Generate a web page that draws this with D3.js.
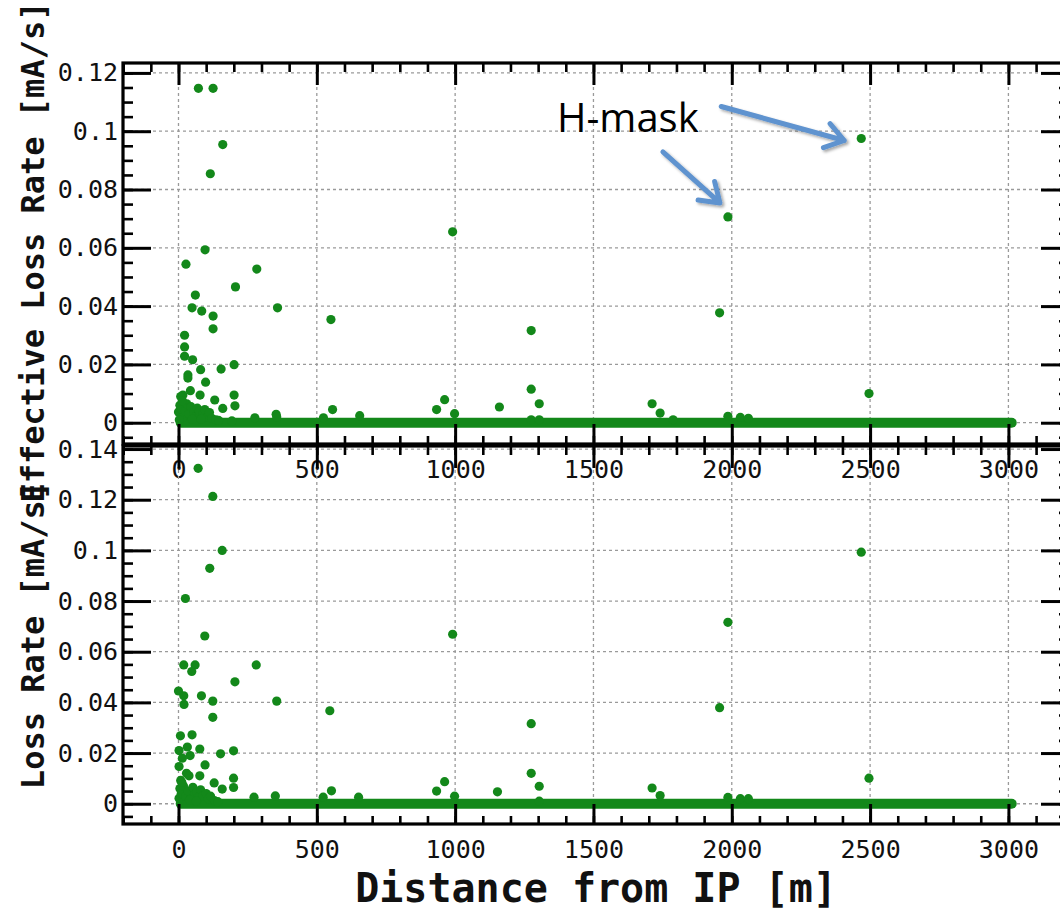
<!DOCTYPE html>
<html>
<head>
<meta charset="utf-8">
<script src="https://cdn.jsdelivr.net/npm/d3@7"></script>
<style>
  body { margin: 0; background: #fff; }
  svg { display: block; }
</style>
</head>
<body>
<div id="chart"></div>
<script>
// ---- data ----
var xTicks = [0, 500, 1000, 1500, 2000, 2500, 3000];
var effYTicks = [0, 0.02, 0.04, 0.06, 0.08, 0.1, 0.12];
var lossYTicks = [0, 0.02, 0.04, 0.06, 0.08, 0.1, 0.12, 0.14];

// the dense run of zero-loss points along the ring (first and last position, m)
var zeroRun = [8, 3012];

// upper panel: effective loss rate
var effX = [72, 125, 160, 115, 96, 27, 283, 206, 61, 49, 84, 125, 358, 551, 125, 22, 22, 22, 51, 34, 34, 80, 154, 201,
            98, 43, 78, 201, 131, 160, 204, 16, 12, 0, 991, 962, 933, 998, 1160, 1275, 1275, 1304, 1712, 1741, 1788,
            1956, 1986, 1986, 2031, 2060, 2468, 2496, 276, 353, 355, 524, 557, 655, 193, 1275, 1304,
            5, 8, 10, 18, 25, 30, 38, 45, 55, 60, 68, 75, 88, 95, 105, 112, 120, 135, 145, 3, 14, 50, 82];
var effY = [0.1147, 0.1147, 0.0954, 0.0854, 0.0593, 0.0544, 0.0527, 0.0466, 0.0438, 0.0394, 0.0383, 0.0366, 0.0394,
            0.0354, 0.0322, 0.0300, 0.0260, 0.0228, 0.0216, 0.0164, 0.0153, 0.0182, 0.0184, 0.0199, 0.0139, 0.0110,
            0.0095, 0.0095, 0.0078, 0.0049, 0.0058, 0.0095, 0.0064, 0.0037, 0.0655, 0.0079, 0.0045, 0.0031, 0.0054,
            0.0316, 0.0115, 0.0065, 0.0065, 0.0033, 0.0010, 0.0377, 0.0706, 0.0022, 0.0018, 0.0015, 0.0975, 0.0100,
            0.0017, 0.0029, 0.0020, 0.0017, 0.0045, 0.0024, 0.0006, 0.0010, 0.0010,
            0.0060, 0.0090, 0.0045, 0.0020, 0.0040, 0.0065, 0.0030, 0.0055, 0.0035, 0.0020, 0.0050, 0.0040, 0.0030,
            0.0045, 0.0020, 0.0035, 0.0015, 0.0010, 0.0008, 0.0010, 0.0075, 0.0012, 0.0012];

// lower panel: loss rate
var lossX = [71, 124, 158, 113, 25, 95, 19, 60, 48, 281, 204, 0, 19, 20, 83, 124, 355, 547, 124, 7, 49, 2, 32, 42, 77,
             152, 199, 14, 2, 29, 38, 77, 96, 8, 199, 129, 158, 199, 2, 273, 350, 523, 553, 651, 991, 962, 933, 998,
             1153, 1275, 1275, 1304, 1712, 1741, 1956, 1986, 1986, 2031, 2060, 2468, 2496, 1304,
             5, 10, 18, 26, 35, 44, 52, 58, 66, 72, 80, 88, 100, 108, 116, 130, 142, 12, 40, 64];
var lossY = [0.1324, 0.1213, 0.1000, 0.0929, 0.0810, 0.0662, 0.0548, 0.0548, 0.0522, 0.0548, 0.0481, 0.0445, 0.0426,
             0.0392, 0.0426, 0.0405, 0.0405, 0.0367, 0.0341, 0.0268, 0.0272, 0.0210, 0.0224, 0.0190, 0.0216, 0.0197,
             0.0209, 0.0180, 0.0147, 0.0120, 0.0110, 0.0110, 0.0153, 0.0092, 0.0101, 0.0082, 0.0058, 0.0064, 0.0022,
             0.0026, 0.0031, 0.0026, 0.0051, 0.0026, 0.0669, 0.0087, 0.0050, 0.0030, 0.0047, 0.0316, 0.0120, 0.0069,
             0.0062, 0.0032, 0.0379, 0.0716, 0.0025, 0.0020, 0.0020, 0.0993, 0.0101, 0.0010,
             0.0060, 0.0040, 0.0070, 0.0030, 0.0050, 0.0020, 0.0065, 0.0035, 0.0045, 0.0025, 0.0055, 0.0030, 0.0040,
             0.0020, 0.0030, 0.0012, 0.0008, 0.0085, 0.0015, 0.0010];

// the two points labelled "H-mask" (upper panel)
var hmaskX = [1986, 2468];
var hmaskY = [0.0706, 0.0975];

// ---- drawing ----
var width = 1060,
    height = 912,
    green = "#13881a",
    monoFont = "'DejaVu Sans Mono', 'Liberation Mono', monospace";

var svg = d3.select("#chart")
    .append("svg")
    .attr("width", width)
    .attr("height", height);

svg.append("defs").append("filter")
    .attr("id", "shadow")
    .attr("x", "-20%").attr("y", "-20%").attr("width", "140%").attr("height", "140%")
    .append("feDropShadow")
    .attr("dx", 2).attr("dy", 2).attr("stdDeviation", 1.5)
    .attr("flood-color", "#000").attr("flood-opacity", 0.35);

var x = d3.scaleLinear().domain([-200.6, 3219]).range([123, 1069]);

var panels = [
    { top: 63, bottom: 444, domain: [-0.0073, 0.1234], ticks: effYTicks, xs: effX, ys: effY },
    { top: 446, bottom: 824, domain: [-0.008, 0.1412], ticks: lossYTicks, xs: lossX, ys: lossY }
];

var xMinor = d3.range(-200, 3300, 100);

panels.forEach(function (p) {
    var y = d3.scaleLinear().domain(p.domain).range([p.bottom, p.top]);
    p.y = y;
    var yMinor = d3.range(-0.005, p.domain[1], 0.005);
    var g = svg.append("g");

    // dotted grid
    g.append("g").selectAll("line").data(p.ticks).enter().append("line")
        .attr("x1", x.range()[0]).attr("x2", x.range()[1])
        .attr("y1", function (d) { return y(d); }).attr("y2", function (d) { return y(d); })
        .attr("stroke", "#9a9a9a").attr("stroke-width", 1.3).attr("stroke-dasharray", "3,3");
    g.append("g").selectAll("line").data(xTicks).enter().append("line")
        .attr("x1", function (d) { return x(d); }).attr("x2", function (d) { return x(d); })
        .attr("y1", p.top).attr("y2", p.bottom)
        .attr("stroke", "#9a9a9a").attr("stroke-width", 1.3).attr("stroke-dasharray", "3,3");

    // zero-loss run
    g.append("path")
        .datum(zeroRun)
        .attr("d", d3.line().x(function (d) { return x(d); }).y(function () { return y(0); }))
        .attr("stroke", green).attr("stroke-width", 10).attr("stroke-linecap", "round").attr("fill", "none");

    // points
    g.append("g").selectAll("circle").data(p.xs).enter().append("circle")
        .attr("cx", function (d) { return x(d); })
        .attr("cy", function (d, i) { return y(p.ys[i]); })
        .attr("r", 4.6)
        .attr("fill", green);

    // minor ticks (inward on all four sides)
    var axes = g.append("g").attr("stroke", "#000").attr("fill", "none");
    axes.append("g").attr("transform", "translate(0," + p.bottom + ")")
        .call(d3.axisBottom(x).tickValues(xMinor).tickSize(-8).tickFormat(""));
    axes.append("g").attr("transform", "translate(0," + p.top + ")")
        .call(d3.axisTop(x).tickValues(xMinor).tickSize(-9).tickFormat(""));
    axes.append("g").attr("transform", "translate(" + x.range()[0] + ",0)")
        .call(d3.axisLeft(y).tickValues(yMinor).tickSize(-10).tickFormat(""));
    axes.append("g").attr("transform", "translate(" + x.range()[1] + ",0)")
        .call(d3.axisRight(y).tickValues(yMinor).tickSize(-10).tickFormat(""));

    // major ticks with labels
    axes.append("g").attr("class", "major").attr("transform", "translate(0," + p.bottom + ")")
        .call(d3.axisBottom(x).tickValues(xTicks).tickSize(-20).tickPadding(16).tickFormat(d3.format("d")));
    axes.append("g").attr("class", "major").attr("transform", "translate(0," + p.top + ")")
        .call(d3.axisTop(x).tickValues(xTicks).tickSize(-22).tickFormat(""));
    axes.append("g").attr("class", "major").attr("transform", "translate(" + x.range()[0] + ",0)")
        .call(d3.axisLeft(y).tickValues(p.ticks).tickSize(-28).tickPadding(5)
            .tickFormat(function (d) { return String(+d.toFixed(2)); }));
    axes.append("g").attr("class", "major").attr("transform", "translate(" + x.range()[1] + ",0)")
        .call(d3.axisRight(y).tickValues(p.ticks).tickSize(-28).tickFormat(""));

    axes.selectAll(".domain").remove();
    axes.selectAll(".tick line").attr("stroke", "#000").attr("stroke-width", 2.6);
    axes.selectAll(".major .tick line").attr("stroke-width", 3);
    axes.selectAll("text")
        .attr("fill", "#111").attr("stroke", "none")
        .style("font-family", monoFont).style("font-size", "25px");

    // frame
    g.append("rect")
        .attr("x", x.range()[0]).attr("y", p.top)
        .attr("width", x.range()[1] - x.range()[0]).attr("height", p.bottom - p.top)
        .attr("fill", "none").attr("stroke", "#000").attr("stroke-width", 3.2);
});

// axis titles
svg.append("text")
    .attr("transform", "translate(44,252) rotate(-90)")
    .attr("text-anchor", "middle")
    .style("font-family", monoFont).style("font-size", "32px").style("font-weight", "bold")
    .attr("fill", "#111")
    .text("Effective Loss Rate [mA/s]");
svg.append("text")
    .attr("transform", "translate(44,635) rotate(-90)")
    .attr("text-anchor", "middle")
    .style("font-family", monoFont).style("font-size", "32px").style("font-weight", "bold")
    .attr("fill", "#111")
    .text("Loss Rate [mA/s]");
svg.append("text")
    .attr("x", 596).attr("y", 902)
    .attr("text-anchor", "middle")
    .style("font-family", monoFont).style("font-size", "40px").style("font-weight", "bold")
    .attr("fill", "#111")
    .text("Distance from IP [m]");

// H-mask annotation
var yTop = panels[0].y;
svg.append("text")
    .attr("x", 557).attr("y", 132)
    .style("font-family", "'Open Sans', 'Liberation Sans', sans-serif").style("font-size", "40px")
    .attr("fill", "#000")
    .text("H-mask");

var arrowOffsets = [
    { tip: [-8, -14], tail: [-57, -51] },
    { tip: [-17, 2], tail: [-123, -34] }
];
var arrows = svg.append("g").attr("filter", "url(#shadow)")
    .attr("stroke", "#5f93cf").attr("stroke-width", 5).attr("fill", "none")
    .attr("stroke-linecap", "round").attr("stroke-linejoin", "round");
hmaskX.forEach(function (hx, i) {
    var o = arrowOffsets[i],
        tx = x(hx) + o.tip[0], ty = yTop(hmaskY[i]) + o.tip[1],
        sx = tx + o.tail[0], sy = ty + o.tail[1],
        a = Math.atan2(ty - sy, tx - sx), len = 22, spread = 0.6;
    var path = d3.path();
    path.moveTo(sx, sy);
    path.lineTo(tx, ty);
    path.moveTo(tx - len * Math.cos(a - spread), ty - len * Math.sin(a - spread));
    path.lineTo(tx, ty);
    path.lineTo(tx - len * Math.cos(a + spread), ty - len * Math.sin(a + spread));
    arrows.append("path").attr("d", path.toString());
});
</script>
</body>
</html>
